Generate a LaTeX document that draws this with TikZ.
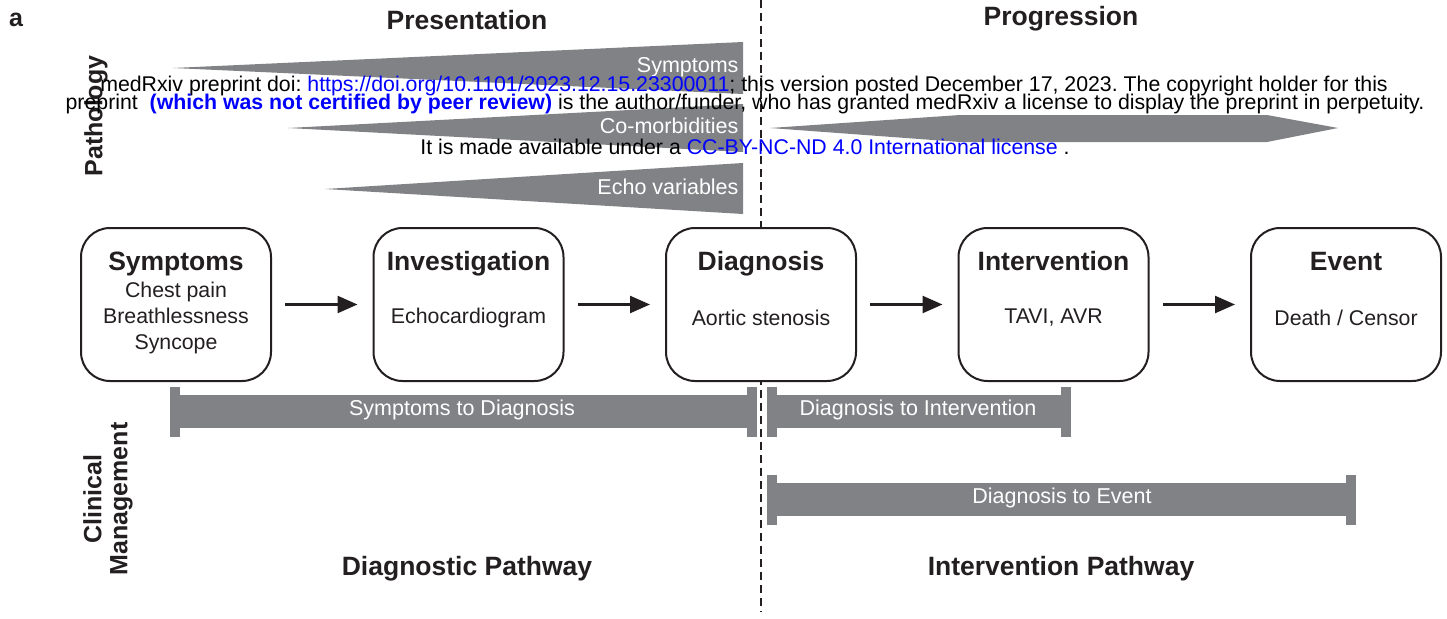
\documentclass[tikz,border=0pt]{standalone}
\usepackage{fontspec}
\setmainfont{Liberation Sans}
\usetikzlibrary{arrows.meta,positioning}
\definecolor{bandgray}{RGB}{128,130,133}
\definecolor{inkblack}{RGB}{35,31,32}
\definecolor{wmblue}{RGB}{0,0,255}
\frenchspacing

\begin{document}
\begin{tikzpicture}[
    x=1pt, y=-1pt,
    node distance=100.5pt,
    stage/.style={draw=inkblack, line width=2pt, fill=white, rounded corners=29pt,
      minimum width=190pt, minimum height=153pt},
    ttl/.style={font=\fontsize{26.5}{30}\selectfont\bfseries, text=inkblack,
      text height=19pt, text depth=6pt},
    sub/.style={font=\fontsize{21.3}{26}\selectfont, text=inkblack, align=center},
    head/.style={font=\fontsize{26.5}{30}\selectfont\bfseries, text=inkblack},
    side/.style={font=\fontsize{25}{26}\selectfont\bfseries, text=inkblack, rotate=90, align=center},
    flow/.style={-{Triangle[length=20pt,width=17pt]}, line width=2.5pt, draw=inkblack,
      shorten <=13pt, shorten >=15pt},
    band/.style={fill=bandgray},
    bandtext/.style={font=\fontsize{21.5}{24}\selectfont, text=white},
    wm/.style={font=\fontsize{21.3}{22}\selectfont, text=black, inner sep=0pt}
  ]
  \useasboundingbox (0,0) rectangle (1447,618);

  % panel letter and headings
  \node[font=\fontsize{25}{28}\selectfont\bfseries, text=inkblack] (lbl) at (16,20) {a};
  \node[head] (pres) at (467,20) {Presentation};
  \node[head] (prog) at (1061,19) {Progression};
  \node[head] (dpath) at (467,569) {Diagnostic Pathway};
  \node[head] (ipath) at (1061,569) {Intervention Pathway};
  \node[side] (patho) at (96,116) {Pathology};
  \node[side] (clin) at (108,499) {Clinical\\Management};

  % divider
  \draw[line width=2.5pt, inkblack, dash pattern=on 8pt off 5pt] (761,0) -- (761,612);

  % pathology wedges
  \fill[band] (173,68) -- (743,42) -- (743,94) -- cycle;
  \fill[band] (288,128) -- (743,104) -- (743,152) -- cycle;
  \fill[band] (325,189) -- (743,163) -- (743,214) -- cycle;
  \fill[band] (770,128) -- (960,115) -- (1267,115) -- (1338,128) -- (1267,142) -- (960,142) -- cycle;
  \node[bandtext, anchor=east] (wsym) at (742,67) {Symptoms};
  \node[bandtext, anchor=east] (wcom) at (742,126) {Co-morbidities};
  \node[bandtext, anchor=east] (wecho) at (742,187) {Echo variables};

  % pathway
  \node[stage] (sym) at (176,304.5) {};
  \node[stage, right=of sym] (inv) {};
  \node[stage, right=of inv] (dia) {};
  \node[stage, right=of dia] (int) {};
  \node[stage, right=of int] (evt) {};

  \node[ttl] (symT) at ([yshift=41pt]sym.center) {Symptoms};
  \node[ttl] (invT) at ([yshift=41pt]inv.center) {Investigation};
  \node[ttl] (diaT) at ([yshift=41pt]dia.center) {Diagnosis};
  \node[ttl] (intT) at ([yshift=41pt]int.center) {Intervention};
  \node[ttl] (evtT) at ([yshift=41pt]evt.center) {Event};

  \node[sub] (symS) at ([yshift=-13pt]sym.center) {Chest pain\\Breathlessness\\Syncope};
  \node[sub] (invS) at ([yshift=-13pt]inv.center) {Echocardiogram};
  \node[sub] (diaS) at ([yshift=-13pt]dia.center) {Aortic stenosis};
  \node[sub] (intS) at ([yshift=-13pt]int.center) {TAVI, AVR};
  \node[sub] (evtS) at ([yshift=-13pt]evt.center) {Death / Censor};

  \draw[flow] (sym) -- (inv);
  \draw[flow] (inv) -- (dia);
  \draw[flow] (dia) -- (int);
  \draw[flow] (int) -- (evt);

  % clinical management intervals
  \fill[band] (170,395) rectangle (757,428);
  \fill[band] (170,387) rectangle (180,437);
  \fill[band] (747,387) rectangle (757,437);
  \node[bandtext] (s2d) at (462,410) {Symptoms to Diagnosis};

  \fill[band] (767,395) rectangle (1071,428);
  \fill[band] (767,387) rectangle (777,437);
  \fill[band] (1061,387) rectangle (1071,437);
  \node[bandtext] (d2i) at (918,410) {Diagnosis to Intervention};

  \fill[band] (767,483) rectangle (1356,516);
  \fill[band] (767,475) rectangle (777,525);
  \fill[band] (1346,475) rectangle (1356,525);
  \node[bandtext] (d2e) at (1062,498) {Diagnosis to Event};

  % preprint notice
  \node[wm] (wm1) at (744,86) {medRxiv preprint doi: \textcolor{wmblue}{https://doi.org/10.1101/2023.12.15.23300011}; this version posted December 17, 2023. The copyright holder for this};
  \node[wm] (wm2) at (745,104) {preprint \ \textcolor{wmblue}{\bfseries(which was not certified by peer review)} is the author/funder, who has granted medRxiv a license to display the preprint in perpetuity.};
  \node[wm] (wm3) at (745,147) {It is made available under a \textcolor{wmblue}{CC-BY-NC-ND 4.0 International license} .};
\end{tikzpicture}
\end{document}
